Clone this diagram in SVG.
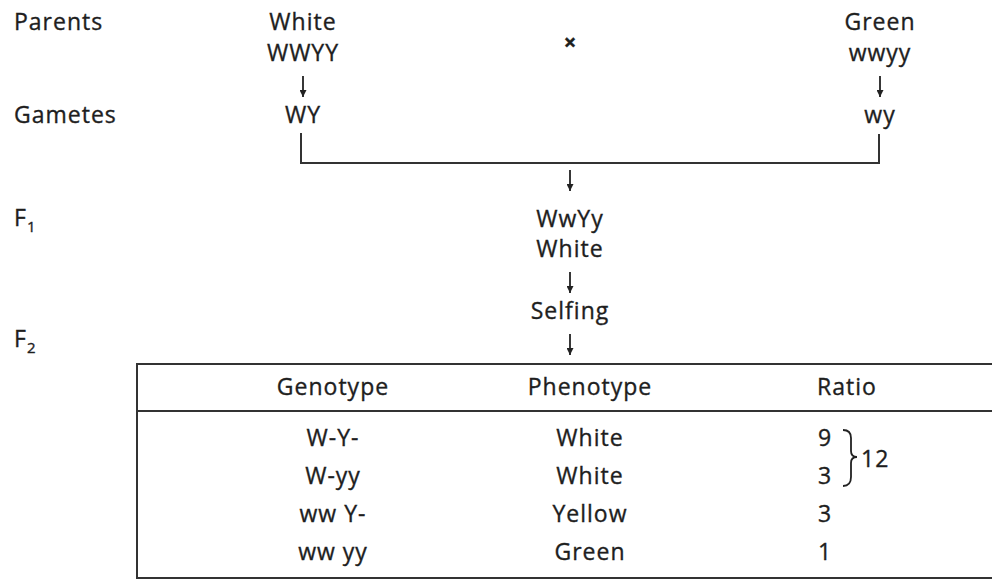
<svg xmlns="http://www.w3.org/2000/svg" width="992" height="580" viewBox="0 0 992 580">
  <defs>
    <style>
      text { font-family: "Open Sans", Lato, "Liberation Sans", sans-serif; font-size: 23px; fill: #1e1e1e; stroke: #1e1e1e; stroke-width: 0.35px; letter-spacing: 1px; }
      .c { text-anchor: middle; }
      .sub { font-size: 15px; }
      .ln { stroke: #333; stroke-width: 2; fill: none; }
      .arr { stroke: #222; stroke-width: 1.8; fill: none; marker-end: url(#head); }
    </style>
    <marker id="head" viewBox="0 0 10 10" refX="10" refY="5" markerWidth="8" markerHeight="7" markerUnits="userSpaceOnUse" orient="auto">
      <path d="M0,0 L10,5 L0,10 Z" fill="#222"/>
    </marker>
  </defs>

  <rect width="992" height="580" fill="#fff"/>

  <!-- generation labels -->
  <g id="labels">
    <text x="14" y="30">Parents</text>
    <text x="14" y="123">Gametes</text>
    <text x="14" y="226">F<tspan class="sub" dy="6">1</tspan></text>
    <text x="14" y="347">F<tspan class="sub" dy="6">2</tspan></text>
  </g>

  <g id="parent-white">
    <text class="c" x="303" y="30">White</text>
    <text class="c" x="303" y="61">WWYY</text>
  </g>
  <g id="gamete-white"><text class="c" x="303" y="123">WY</text></g>

  <g id="cross"><text class="c" x="570" y="50" style="font-size:22px;font-weight:bold;letter-spacing:0">×</text></g>

  <g id="parent-green">
    <text class="c" x="880" y="30">Green</text>
    <text class="c" x="880" y="61">wwyy</text>
  </g>
  <g id="gamete-green"><text class="c" x="880" y="123">wy</text></g>

  <g id="f1">
    <text class="c" x="570" y="227">WwYy</text>
    <text class="c" x="570" y="257">White</text>
  </g>
  <g id="selfing"><text class="c" x="570" y="319">Selfing</text></g>

  <!-- connectors -->
  <g id="connectors">
    <path class="ln" d="M301,133 V163 H879 V134"/>
    <path class="arr" d="M303,76 V97"/>
    <path class="arr" d="M880,76 V97"/>
    <path class="arr" d="M570,170 V191"/>
    <path class="arr" d="M570,272 V293"/>
    <path class="arr" d="M570,334 V355"/>
  </g>

  <!-- F2 table -->
  <g id="table">
    <path class="ln" d="M992,364 H137 V578 H992"/>
    <line class="ln" x1="137" y1="411" x2="992" y2="411"/>
    <text class="c" x="333" y="395">Genotype</text>
    <text class="c" x="590" y="395">Phenotype</text>
    <text x="817" y="395">Ratio</text>

    <text class="c" x="333" y="446">W-Y-</text>
    <text class="c" x="333" y="484">W-yy</text>
    <text class="c" x="333" y="522">ww Y-</text>
    <text class="c" x="333" y="560">ww yy</text>

    <text class="c" x="590" y="446">White</text>
    <text class="c" x="590" y="484">White</text>
    <text class="c" x="590" y="522">Yellow</text>
    <text class="c" x="590" y="560">Green</text>

    <text x="818" y="446">9</text>
    <text x="818" y="484">3</text>
    <text x="818" y="522">3</text>
    <text x="818" y="560">1</text>

    <path d="M843,430 Q851,430 851,438 V451 Q851,457 857,457 Q851,457 851,463 V477 Q851,486 843,486" style="stroke:#222;stroke-width:1.8;fill:none"/>
    <text x="861" y="467">12</text>
  </g>
</svg>
